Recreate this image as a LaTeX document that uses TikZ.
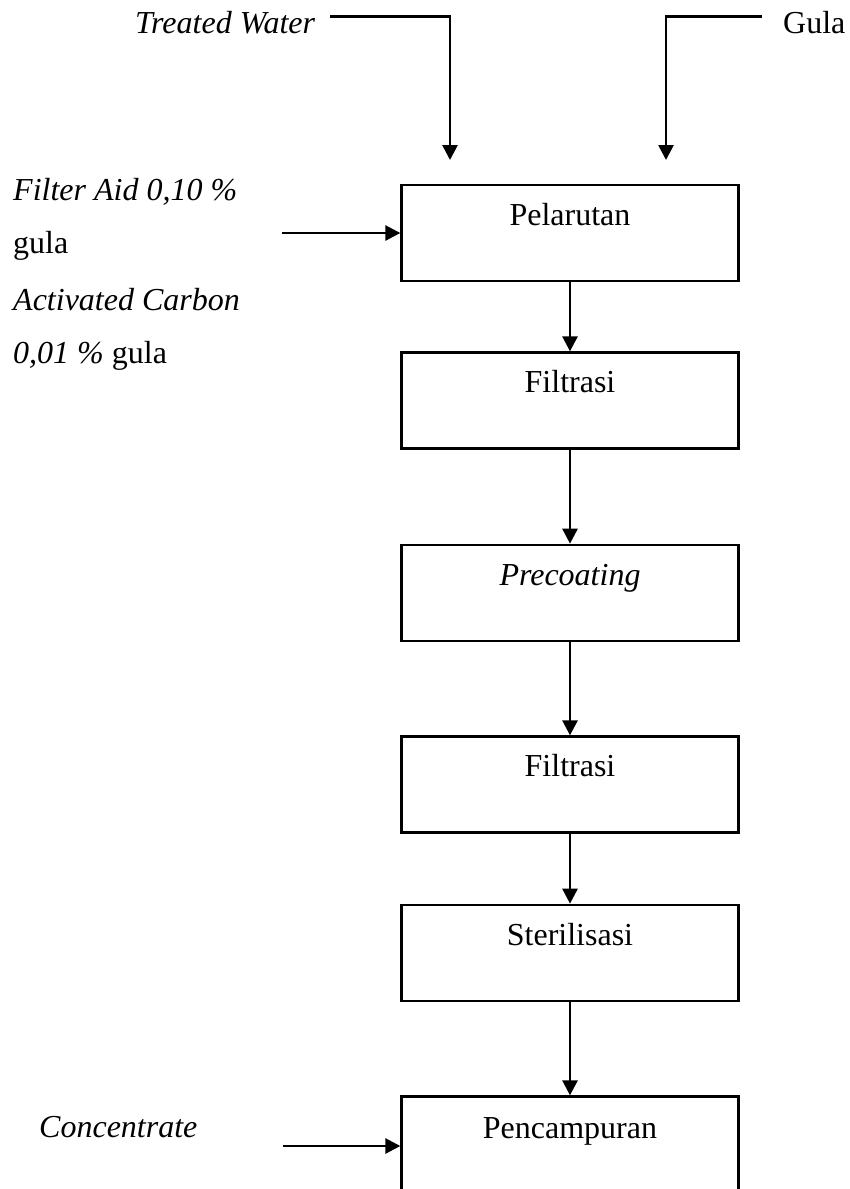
\documentclass[tikz,border=0pt]{standalone}
\usepackage{fontspec}
\setmainfont{Liberation Serif}
\usetikzlibrary{arrows.meta}

\begin{document}
\begin{tikzpicture}[x=1pt, y=-1pt,
  every node/.style={font=\fontsize{32pt}{38pt}\selectfont, inner sep=0pt},
  procbox/.style={draw, line width=2.7pt, minimum width=336.6pt, minimum height=96pt},
  flow/.style={line width=2.7pt, -{Triangle[length=15pt, width=15pt]}},
  feed/.style={line width=2.7pt}]
\useasboundingbox (0,0) rectangle (849,1189);

% process boxes (top edge + 48 = centre)
\node[procbox] (b1) at (570,233) {};
\node[procbox] (b2) at (570,400.7) {};
\node[procbox] (b3) at (570,593) {};
\node[procbox] (b4) at (570,784.7) {};
\node[procbox] (b5) at (570,953) {};
\node[procbox] (b6) at (570,1144.7) {};

% box titles
\node[anchor=base] (t1) at (570,225) {Pelarutan};
\node[anchor=base] (t2) at (570,392.7) {Filtrasi};
\node[anchor=base] (t3) at (570,585) {\textit{Precoating}};
\node[anchor=base] (t4) at (570,776.7) {Filtrasi};
\node[anchor=base] (t5) at (570,945.7) {Sterilisasi};
\node[anchor=base] (t6) at (570,1138) {Pencampuran};

% feed labels
\node[anchor=base west] (tw) at (135,33) {\textit{Treated Water}};
\node[anchor=base west] (gl) at (783,33) {Gula};
\node[anchor=base west] (fa1) at (13,200.7) {\textit{Filter Aid 0,10 \%}};
\node[anchor=base west] (fa2) at (13,253) {gula};
\node[anchor=base west] (fa3) at (13,310.7) {\textit{Activated Carbon}};
\node[anchor=base west] (fa4) at (13,363) {\textit{0,01 \%} gula};
\node[anchor=base west] (cc) at (39,1137) {\textit{Concentrate}};

% feed line end points
\coordinate (twA) at (330,16.7);
\coordinate (twB) at (450,160);
\coordinate (glA) at (762,16.7);
\coordinate (glB) at (666,160);
\coordinate (faA) at (282,233);
\coordinate (ccA) at (283,1146);

% feed lines
\draw[flow] (twA) -| (twB);
\draw[flow] (glA) -| (glB);
\draw[flow] (faA) -- (faA -| b1.west);
\draw[flow] (ccA) -- (ccA -| b6.west);

% main flow
\draw[flow] (b1.south) -- (b2.north);
\draw[flow] (b2.south) -- (b3.north);
\draw[flow] (b3.south) -- (b4.north);
\draw[flow] (b4.south) -- (b5.north);
\draw[flow] (b5.south) -- (b6.north);
\end{tikzpicture}
\end{document}
